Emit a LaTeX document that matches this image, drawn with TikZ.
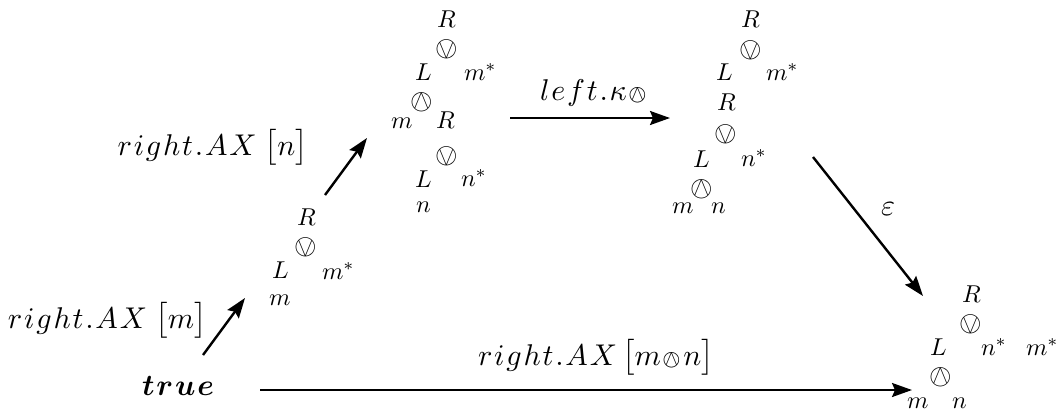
\documentclass[tikz,border=0pt]{standalone}
\usepackage{amsmath,stmaryrd}
\usetikzlibrary{arrows.meta}
\newcommand{\ks}{\mkern1.1mu}
\begin{document}
\begin{tikzpicture}[x=0.5pt,y=-0.5pt,
  every node/.style={inner sep=0pt, outer sep=0pt},
  tv/.style={anchor=base west, scale=1.22},
  op/.style={scale=1.45},
  lab/.style={scale=1.5},
  arr/.style={line width=1.2pt, -{Stealth[length=10pt,width=7pt,inset=1.5pt]}}]
\useasboundingbox (0,0) rectangle (1063,418);

% tree 1
\node[tv] (t1R) at (297,225) {$R$};
\node[op] (t1o) at (306,247) {$\ovee$};
\node[tv] (t1L) at (272,278) {$L$};
\node[tv] (t1ms) at (322,279) {$m^*$};
\node[tv] (t1m) at (269,305) {$m$};

% tree 2
\node[tv] (t2R) at (437,27) {$R$};
\node[op] (t2o) at (447,49) {$\ovee$};
\node[tv] (t2L) at (415,80) {$L$};
\node[tv] (t2ms) at (464,80) {$m^*$};
\node[op] (t2w) at (422,102) {$\owedge$};
\node[tv] (t2m) at (391,128) {$m$};
\node[tv] (t2R2) at (436,128) {$R$};
\node[op] (t2o2) at (447,156) {$\ovee$};
\node[tv] (t2L2) at (415,187) {$L$};
\node[tv] (t2ns) at (461,186) {$n^*$};
\node[tv] (t2n) at (416,212) {$n$};

% tree 3
\node[tv] (t3R) at (741,27) {$R$};
\node[op] (t3o) at (751,50) {$\ovee$};
\node[tv] (t3L) at (716,80) {$L$};
\node[tv] (t3ms) at (766,80) {$m^*$};
\node[tv] (t3R2) at (717,110) {$R$};
\node[op] (t3o2) at (726,134) {$\ovee$};
\node[tv] (t3L2) at (693,167) {$L$};
\node[tv] (t3ns) at (741,166) {$n^*$};
\node[op] (t3w) at (702,189) {$\owedge$};
\node[tv] (t3m) at (672,213) {$m$};
\node[tv] (t3n) at (711,213) {$n$};

% tree 4
\node[tv] (t4R) at (962,302) {$R$};
\node[op] (t4o) at (971,324) {$\ovee$};
\node[tv] (t4L) at (930,355) {$L$};
\node[tv] (t4ns) at (981,355) {$n^*$};
\node[tv] (t4ms) at (1026,355) {$m^*$};
\node[op] (t4w) at (941,377) {$\owedge$};
\node[tv] (t4m) at (907,408) {$m$};
\node[tv] (t4n) at (952,408) {$n$};

% true
\node[lab, anchor=base west] (true) at (142,395) {$\boldsymbol{t\mkern1mu r\mkern1mu u\mkern1mu e}$};

% labels
\node[lab, anchor=base west] (l1) at (8,328) {$r\ks i\ks g\ks h\ks t\ks.\ks A\ks X\;\big[m\big]$};
\node[lab, anchor=base east] (l2) at (308,155) {$r\ks i\ks g\ks h\ks t\ks.\ks A\ks X\;\big[n\big]$};
\node[lab, anchor=base west] (l3) at (540,100) {$l\ks e\ks f\ks t\ks.\ks\kappa\ks{\scriptstyle\owedge}$};
\node[lab] (l4) at (888,209) {$\varepsilon$};
\node[lab, anchor=base west] (l5) at (478,365) {$r\ks i\ks g\ks h\ks t\ks.\ks A\ks X\,\big[m\ks{\scriptstyle\owedge}\ks n\big]$};

% connector ends
\coordinate (a1s) at (203,355);
\coordinate (a1e) at (245,298);
\coordinate (a2s) at (325,195);
\coordinate (a2e) at (367,138);
\coordinate (a3s) at (510,118);
\coordinate (a3e) at (670,118);
\coordinate (a4s) at (813,157);
\coordinate (a4e) at (923,296);
\coordinate (a5s) at (260,390);
\coordinate (a5e) at (912,390);

\draw[arr] (a1s) -- (a1e);
\draw[arr] (a2s) -- (a2e);
\draw[arr] (a3s) -- (a3e);
\draw[arr] (a4s) -- (a4e);
\draw[arr] (a5s) -- (a5e);
\end{tikzpicture}
\end{document}
